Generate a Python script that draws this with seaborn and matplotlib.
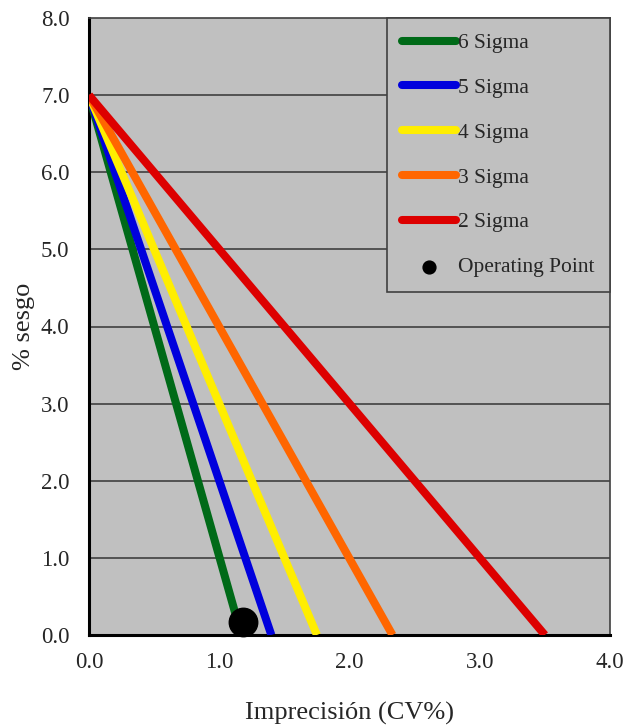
import matplotlib
matplotlib.use("Agg")
import matplotlib.pyplot as plt
import seaborn as sns
import pandas as pd

# Method decision chart values
sigma_labels = ["6 Sigma", "5 Sigma", "4 Sigma", "3 Sigma", "2 Sigma"]
sigma_colors = ["#006a18", "#0000dd", "#ffee00", "#ff6600", "#dd0000"]
bias_start = [7.0, 7.0, 7.0, 7.0, 7.0]
cv_end = [1.17, 1.40, 1.75, 2.33, 3.50]

op_cv = [1.18]
op_bias = [0.17]

x_ticks = [0.0, 1.0, 2.0, 3.0, 4.0]
y_ticks = [0.0, 1.0, 2.0, 3.0, 4.0, 5.0, 6.0, 7.0, 8.0]

rows = []
for lab, b, c in zip(sigma_labels, bias_start, cv_end):
    rows.append({"cv": 0.0, "bias": b, "sigma": lab})
    rows.append({"cv": c, "bias": 0.0, "sigma": lab})
lines_df = pd.DataFrame(rows)
op_df = pd.DataFrame({"cv": op_cv, "bias": op_bias})

sns.set_theme(style="white")
plt.rcParams["font.family"] = ["Liberation Serif", "DejaVu Serif"]

fig = plt.figure(figsize=(6.31, 7.27), dpi=100)
ax = fig.add_axes([89 / 631, 92 / 727, 521 / 631, 617 / 727])
ax.set_facecolor("#c0c0c0")

for y in y_ticks[1:-1]:
    ax.axhline(y, color="#404040", lw=1.2, zorder=1)

sns.lineplot(data=lines_df, x="cv", y="bias", hue="sigma",
             hue_order=sigma_labels, palette=sigma_colors,
             lw=5.8, ax=ax, zorder=3, solid_capstyle="butt")
ax.scatter(op_df["cv"], op_df["bias"], s=420, color="black", zorder=5,
           label="Operating Point", clip_on=False)

ax.set_xlim(0, 4)
ax.set_ylim(0, 8)
ax.set_xticks(x_ticks)
ax.set_yticks(y_ticks)
ax.set_xticklabels([f"{v:.1f}" for v in x_ticks], fontsize=16.5)
ax.set_yticklabels([f"{v:.1f}" for v in y_ticks], fontsize=16.5)
ax.tick_params(axis="y", direction="out", length=6, width=1.5, color="#404040", pad=8)
ax.tick_params(axis="x", direction="out", length=0, pad=12)
ax.set_xlabel("Imprecisión (CV%)", fontsize=19, labelpad=21)
ax.set_ylabel("% sesgo", fontsize=19, labelpad=4)

ax.spines["left"].set_color("black")
ax.spines["left"].set_linewidth(2.2)
ax.spines["bottom"].set_color("black")
ax.spines["bottom"].set_linewidth(2.2)
for s in ["top", "right"]:
    ax.spines[s].set_color("#404040")
    ax.spines[s].set_linewidth(1.2)

handles, labels = ax.get_legend_handles_labels()
leg = ax.legend(handles, labels, loc="upper right", bbox_to_anchor=(1.0, 1.0),
                borderaxespad=0, fontsize=15.5, frameon=True, fancybox=False,
                facecolor="#c0c0c0", edgecolor="#404040", framealpha=1,
                labelspacing=1.15, handlelength=2.5, handletextpad=0.1,
                borderpad=0.7, markerscale=0.45)
leg.get_frame().set_linewidth(1.2)
for h in leg.legend_handles:
    if hasattr(h, "set_solid_capstyle"):
        h.set_solid_capstyle("round")

fig.savefig("out.png", dpi=100)
